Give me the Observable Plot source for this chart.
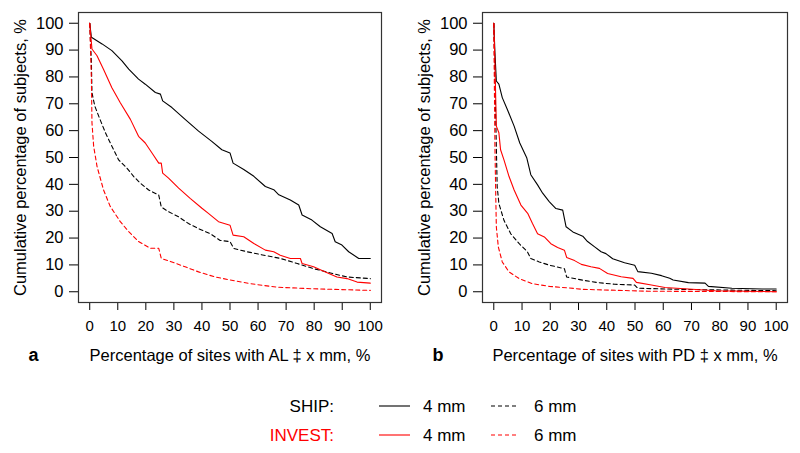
<!DOCTYPE html>
<html><head><meta charset="utf-8">
<script src="https://cdn.jsdelivr.net/npm/d3@7"></script>
<script src="https://cdn.jsdelivr.net/npm/@observablehq/plot@0.6"></script>
<style>
body{margin:0;background:#fff;}
#wrap{position:relative;width:800px;height:453px;font-family:"Liberation Sans",Arial,Helvetica,sans-serif;}
.panel{position:absolute;top:0;}
#legend{position:absolute;left:0;top:380px;}
</style></head><body><div id="wrap"></div>
<script>
const xTicks = [0,10,20,30,40,50,60,70,80,90,100];
const yTicks = [0,10,20,30,40,50,60,70,80,90,100];
const yTitle = "Cumulative percentage of subjects, %";
const xTitleA = "Percentage of sites with AL \u2021 x mm, %";
const xTitleB = "Percentage of sites with PD \u2021 x mm, %";
const legendGroups = ["SHIP:", "INVEST:"];
const legendThresholds = ["4 mm", "6 mm"];

// Panel a: [percentage of sites, cumulative percentage of subjects]
const aShip4 = [[0,100],[0.6,94.8],[4.4,92.3],[7.9,89.8],[11.5,86],[13.9,82.9],[17.4,79.2],[19.8,77.3],[23.4,74.2],[25.2,73.6],[26,71.1],[29.3,68.6],[34,64.2],[38.8,59.8],[43.5,56],[47.1,52.9],[50,51.7],[51.1,47.9],[54.9,45.5],[58.5,43],[62.6,39.2],[65.6,38],[67.4,36.1],[71.5,34.2],[74.5,32.3],[75.7,28.6],[79.2,26.7],[82.2,24.2],[86.4,21.7],[87.5,18.6],[89.9,17.4],[92.3,14.9],[95.9,12.4],[100,12.4]];
const aShip6 = [[0,100],[0.6,85.4],[0.8,74.1],[1.8,69.2],[3.2,65.4],[5.6,59.2],[7.9,54.2],[10.3,49.1],[13.3,46],[15.7,42.9],[18.1,40.4],[21,37.9],[24.6,36],[25.5,31.6],[28.1,29.8],[31.7,27.9],[35.2,25.4],[38.8,23.5],[43,21.6],[46.5,19.1],[50,18.7],[51.4,16.1],[56.1,14.9],[62.1,13.6],[68,12.4],[74,10.5],[79.8,8.6],[85.8,7],[91.7,5.5],[100,4.9]];
const aInvest4 = [[0,100],[0.8,90.4],[2.6,87.9],[4.9,82.9],[7.9,76],[10.9,70.4],[14.5,64.2],[17.4,57.9],[19.8,55.4],[22.2,51.7],[24.6,47.9],[25.5,47.9],[26,44.2],[28.1,42.3],[31.7,38.6],[35.8,34.8],[40,31.1],[42.3,29.2],[45.9,26.1],[50,24.8],[51.1,21.1],[54.9,20.5],[58.5,18],[62.6,15.5],[65.6,14.9],[67.9,13.6],[71.5,12.4],[75.1,12.4],[75.7,10.5],[79.8,9.3],[84,7.4],[88.1,5.5],[91.7,4.9],[95.3,3.6],[100,3.2]];
const aInvest6 = [[0,100],[0.6,79.1],[0.8,63],[1.4,54.2],[2.6,46.7],[4.9,38],[7.3,31.8],[10.9,26.1],[13.9,22.4],[17.4,18.7],[21.6,16.2],[24.6,16.2],[25.5,12.4],[29.3,11.1],[34,9.3],[38.8,7.4],[44.7,5.5],[50,4.4],[57.3,3],[66.8,1.7],[79.8,1.1],[100,0.5]];

// Panel b
const bShip4 = [[0,100],[0.4,89.2],[0.9,78.5],[1.8,77.3],[3,72.3],[4.8,67.9],[7.2,61.7],[9.2,55.4],[11.7,49.8],[13.1,43.6],[15.5,39.8],[17.3,36.7],[19.7,33.5],[22,31],[24.4,30.4],[25.6,24.2],[28,22.3],[31.5,20.7],[33.2,18.7],[35.6,16.8],[38,14.9],[39.7,14.2],[42.1,12.3],[46.3,10.8],[49.9,9.9],[51,7.5],[55.8,6.9],[59.4,6],[62.3,5],[63.5,4.4],[68.9,3.4],[74.8,3.2],[76,2],[84.3,1.3],[95,1],[100,1]];
const bShip6 = [[0,100],[0.4,79.1],[0.9,54.2],[1.2,39.2],[1.8,32.9],[3.6,26.6],[6,21.6],[9,17.9],[11.9,14.9],[13.1,12.4],[16.1,11.1],[19.7,9.9],[25,8.6],[25.8,5.5],[31.5,4.3],[36.8,3.4],[42.8,2.8],[49.9,2.5],[51,1.3],[66.5,0.9],[84.3,0.6],[100,0.4]];
const bInvest4 = [[0,100],[0.4,85.4],[0.9,61.7],[1.8,59.2],[2.4,52.9],[3.6,49.1],[5.4,42.9],[7.2,37.9],[9.6,32.3],[12,29.2],[13.7,25.4],[15.5,21.6],[17.9,20.4],[20.2,17.9],[22.6,16.5],[25,15.5],[25.8,12.8],[28.6,11.6],[31,10.2],[34.4,9.3],[37.4,8.7],[40.3,6.8],[45.1,5.6],[49.3,5],[50.5,3.5],[55.8,2.5],[60.6,1.6],[68.9,1],[78.4,0.4],[100,0]];
const bInvest6 = [[0,100],[0.4,54.2],[0.7,35.4],[0.9,24.2],[1.6,16.7],[3,11.1],[5.4,7.4],[9,4.9],[13.7,3],[19.7,2],[26.8,1.4],[31.5,0.9],[54.6,0.2],[100,0]];

const FONT = '"Liberation Sans", Arial, Helvetica, sans-serif';
const RED = "#ff0000";

function panel(series, xTitle, letter, mLeft, mRight) {
  const lines = series.map(s => Plot.line(s.data, {
    x: d => d[0], y: d => d[1], stroke: s.color, strokeWidth: 1.1,
    strokeDasharray: s.dash ? "4,3" : null
  }));
  return Plot.plot({
    width: 400, height: 380,
    marginLeft: mLeft, marginRight: mRight, marginTop: 12, marginBottom: 78,
    style: {fontFamily: FONT, fontSize: "15px", color: "#000", background: "white", overflow: "visible"},
    x: {domain: [-4, 104]},
    y: {domain: [-4, 104]},
    marks: [
      Plot.axisX(xTicks, {tickSize: 8, tickPadding: 10, fontSize: 15, label: null, tickFormat: d => String(d)}),
      Plot.axisY(yTicks, {tickSize: 9, tickPadding: 6, fontSize: 16.5, label: null, tickFormat: d => String(d)}),
      ...lines,
      Plot.frame({stroke: "#333", strokeWidth: 1.2}),
      Plot.text([yTitle], {text: d => d, frameAnchor: "left", textAnchor: "middle", dx: -58, rotate: -90, fontSize: 16.5}),
      Plot.text([xTitle], {text: d => d, frameAnchor: "bottom", textAnchor: "middle", dy: 58, fontSize: 16.5}),
      Plot.text([letter], {text: d => d, frameAnchor: "bottom-left", textAnchor: "start", dx: -50, dy: 58, fontSize: 18, fontWeight: "bold"})
    ]
  });
}

const wrap = document.getElementById("wrap");
const pa = panel([
  {data: aShip4, color: "#000", dash: false},
  {data: aShip6, color: "#000", dash: true},
  {data: aInvest4, color: RED, dash: false},
  {data: aInvest6, color: RED, dash: true}
], xTitleA, "a", 78, 19);
pa.classList.add("panel"); pa.style.left = "0px";
wrap.appendChild(pa);
const pb = panel([
  {data: bShip4, color: "#000", dash: false},
  {data: bShip6, color: "#000", dash: true},
  {data: bInvest4, color: RED, dash: false},
  {data: bInvest6, color: RED, dash: true}
], xTitleB, "b", 82, 13);
pb.classList.add("panel"); pb.style.left = "400px";
wrap.appendChild(pb);

// Legend
const leg = d3.create("svg").attr("id", "legend").attr("width", 800).attr("height", 73)
  .style("font-family", FONT).style("font-size", "17px");
const rows = [{label: legendGroups[0], color: "#000", y: 26}, {label: legendGroups[1], color: RED, y: 55}];
rows.forEach(r => {
  leg.append("text").attr("x", 334).attr("y", r.y).attr("dy", "0.35em").attr("text-anchor", "end").attr("fill", r.color).text(r.label);
  leg.append("line").attr("x1", 379).attr("x2", 410).attr("y1", r.y).attr("y2", r.y).attr("stroke", r.color).attr("stroke-width", 1.1);
  leg.append("text").attr("x", 423).attr("y", r.y).attr("dy", "0.35em").text(legendThresholds[0]);
  leg.append("line").attr("x1", 491).attr("x2", 519).attr("y1", r.y).attr("y2", r.y).attr("stroke", r.color).attr("stroke-width", 1.1).attr("stroke-dasharray", "4,3");
  leg.append("text").attr("x", 534).attr("y", r.y).attr("dy", "0.35em").text(legendThresholds[1]);
});
wrap.appendChild(leg.node());
</script></body></html>
